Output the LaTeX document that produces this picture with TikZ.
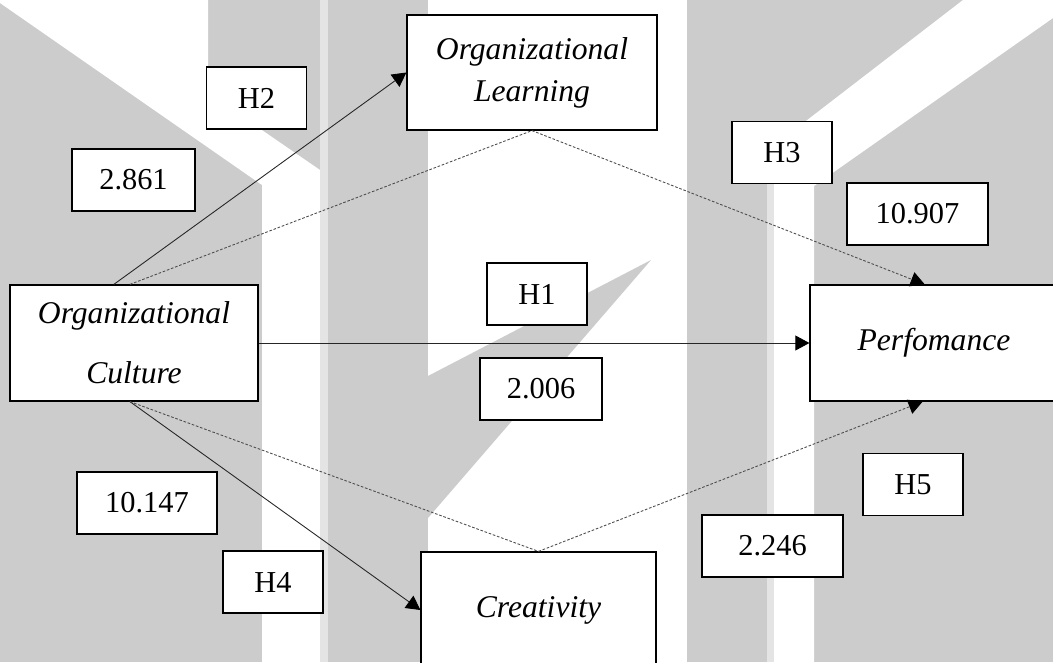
\documentclass[tikz,border=0pt]{standalone}
\usepackage{fontspec}
\setmainfont{Liberation Serif}
\usetikzlibrary{backgrounds}
\usetikzlibrary{positioning}
\usetikzlibrary{arrows.meta}
\definecolor{wmgray}{RGB}{204,204,204}
\definecolor{wmlight}{RGB}{228,228,228}

\begin{document}
\begin{tikzpicture}[
            x = 0.02cm, y = -0.02cm, % one unit = one pixel
            > = {Triangle[length=8pt,width=8.5pt,color=black]}, % arrow head style
            semithick
        ]

        \tikzstyle{var}=[
            draw,
            line width = 0.7pt,
            fill = white,
            minimum width = 4.96cm,
            minimum height = 2.32cm,
            inner sep = 0pt,
            align = center,
            font = \fontsize{18}{24}\selectfont\itshape
        ]
        \tikzstyle{lbl}=[
            draw,
            line width = 1.1pt,
            fill = white,
            minimum width = 2cm,
            minimum height = 1.24cm,
            inner sep = 0pt,
            font = \fontsize{17.3}{20}\selectfont
        ]
        \tikzstyle{solidlink}=[line width = 0.5pt, draw = black!85]
        \tikzstyle{dotlink}=[line width = 0.5pt, draw = black!70, dash pattern = on 1.5pt off 1pt]

        \useasboundingbox (0,0) rectangle (1053,662);

	% variables
        \node[var] (OC) at (134,343) {Organizational\\[10pt]Culture};
        \node[var, minimum width = 5cm, minimum height = 2.3cm] (OL) at (532,72.5) {Organizational\\Learning};
        \node[var] (PF) at (934,343) {Perfomance};
        \node[var, minimum width = 4.7cm] (CR) at (538.5,610) {Creativity};

         % hypotheses and t-values
         \node[lbl] (H1) at (537,294) {H1};
         \node[lbl, minimum width = 2.44cm] (T1) at (541,389) {2.006};
         \node[lbl] (H2) at (256.5,98) {H2};
         \node[lbl, minimum width = 2.46cm] (T2) at (133.5,180) {2.861};
         \node[lbl] (H3) at (782,152.5) {H3};
         \node[lbl, minimum width = 2.82cm] (T3) at (917.5,214) {10.907};
         \node[lbl] (H4) at (273,582) {H4};
         \node[lbl, minimum width = 2.8cm] (T4) at (147,503) {10.147};
         \node[lbl] (H5) at (913,484.5) {H5};
         \node[lbl, minimum width = 2.82cm] (T5) at (772.5,546) {2.246};

         % direct paths
         \draw[solidlink,->] (OC.109) -- (OL.west);
         \draw[solidlink,->] (OC.east) -- (PF.west);
         \draw[solidlink,->] (OC.266) -- (CR.west);

         % mediated paths
         \draw[dotlink] (OC.94) -- (OL.south);
         \draw[dotlink,->] (OL.south) -- (PF.99);
         \draw[dotlink] (OC.266) -- (CR.north);
         \draw[dotlink,->] (CR.north) -- (PF.259);

          \begin{scope}[on background layer]
          \fill[wmgray] (0,0) rectangle (1053,662);
          \fill[white] (0,0) -- (208,0) -- (208,93) -- (320,170) -- (320,662) -- (262,662) -- (262,185) -- (0,3) -- cycle;
          \fill[wmlight] (320,0) rectangle (328,662);
          \fill[white] (428,0) rectangle (687,662);
          \fill[wmgray] (651,260) -- (428,376) -- (428,518) -- cycle;
          \fill[white] (963,0) -- (1053,0) -- (1053,18) -- (814,186) -- (814,662) -- (767,662) -- (767,151) -- cycle;
          \fill[wmlight] (767,151) rectangle (774,662);
          \end{scope}

  \end{tikzpicture}
\end{document}
